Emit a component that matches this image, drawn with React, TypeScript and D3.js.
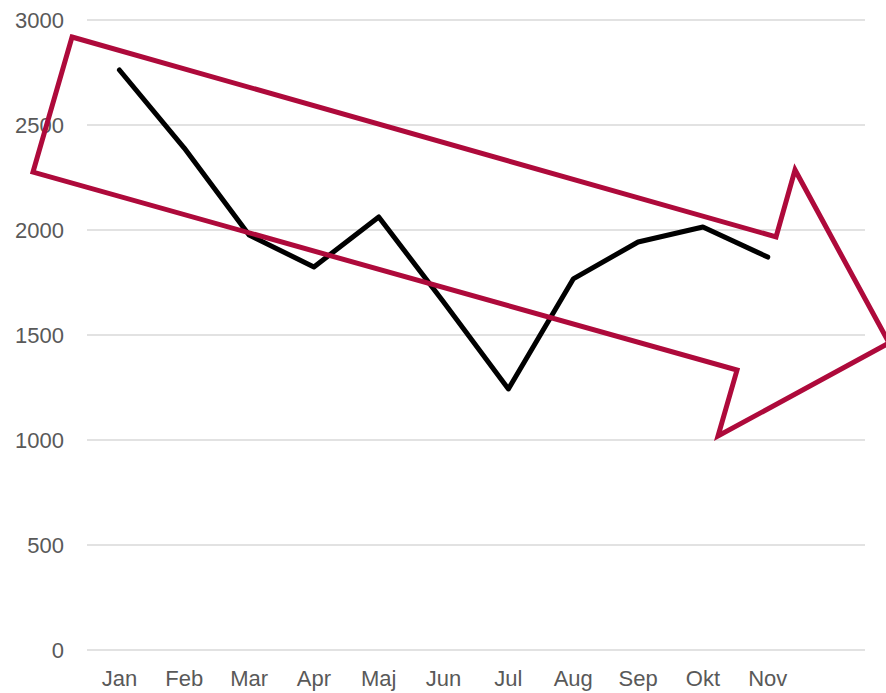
import React from 'react';
import { scaleBand, scaleLinear, line } from 'd3';

// month labels (last slot is empty, no data)
const months = ['Jan', 'Feb', 'Mar', 'Apr', 'Maj', 'Jun', 'Jul', 'Aug', 'Sep', 'Okt', 'Nov', ''];
const values = [2762, 2390, 1976, 1824, 2062, 1657, 1243, 1767, 1943, 2014, 1871];
const yTicks = [0, 500, 1000, 1500, 2000, 2500, 3000];

// arrow annotation outline in data space: [month index (fractional), value]
const arrowPoints: [number, number][] = [
  [-0.731, 2919],
  [10.128, 1967],
  [10.421, 2286],
  [11.871, 1462],
  [9.233, 1019],
  [9.526, 1333],
  [-1.333, 2276],
];

export default function App() {
  const width = 886;
  const height = 693;
  const margin = { top: 20, right: 21, bottom: 43, left: 87 };

  const xScale = scaleBand<string>()
    .domain(months.map((m, i) => m || `slot${i}`))
    .range([margin.left, width - margin.right])
    .padding(0);
  const bw = xScale.bandwidth();
  const xAt = (i: number) => margin.left + (i + 0.5) * bw;

  const yScale = scaleLinear().domain([0, 3000]).range([height - margin.bottom, margin.top]);

  const linePath = line<number>()
    .x((_, i) => xAt(i))
    .y(d => yScale(d))(values);

  const arrowPath = line<[number, number]>()
    .x(d => xAt(d[0]))
    .y(d => yScale(d[1]))(arrowPoints) + 'Z';

  const font = '"Liberation Sans", Arial, sans-serif';

  return (
    <svg
      width={width}
      height={height}
      style={{ position: 'absolute', left: 0, top: 0, background: '#fff' }}
    >
      {/* gridlines */}
      {yTicks.map(t => (
        <line
          key={t}
          x1={margin.left}
          x2={width - margin.right}
          y1={yScale(t)}
          y2={yScale(t)}
          stroke="#d9d9d9"
          strokeWidth={1.5}
        />
      ))}
      {/* y labels */}
      {yTicks.map(t => (
        <text
          key={t}
          x={64}
          y={yScale(t)}
          dy="0.35em"
          textAnchor="end"
          fontFamily={font}
          fontSize={22}
          fill="#595959"
        >
          {t}
        </text>
      ))}
      {/* x labels */}
      {months.map((m, i) =>
        m ? (
          <text
            key={i}
            x={xAt(i)}
            y={686}
            textAnchor="middle"
            fontFamily={font}
            fontSize={22}
            fill="#595959"
          >
            {m}
          </text>
        ) : null
      )}
      <path
        d={linePath || ''}
        fill="none"
        stroke="#000"
        strokeWidth={5}
        strokeLinecap="round"
        strokeLinejoin="round"
      />
      <path d={arrowPath} fill="none" stroke="#ae0a3b" strokeWidth={5} strokeLinejoin="miter" />
    </svg>
  );
}
